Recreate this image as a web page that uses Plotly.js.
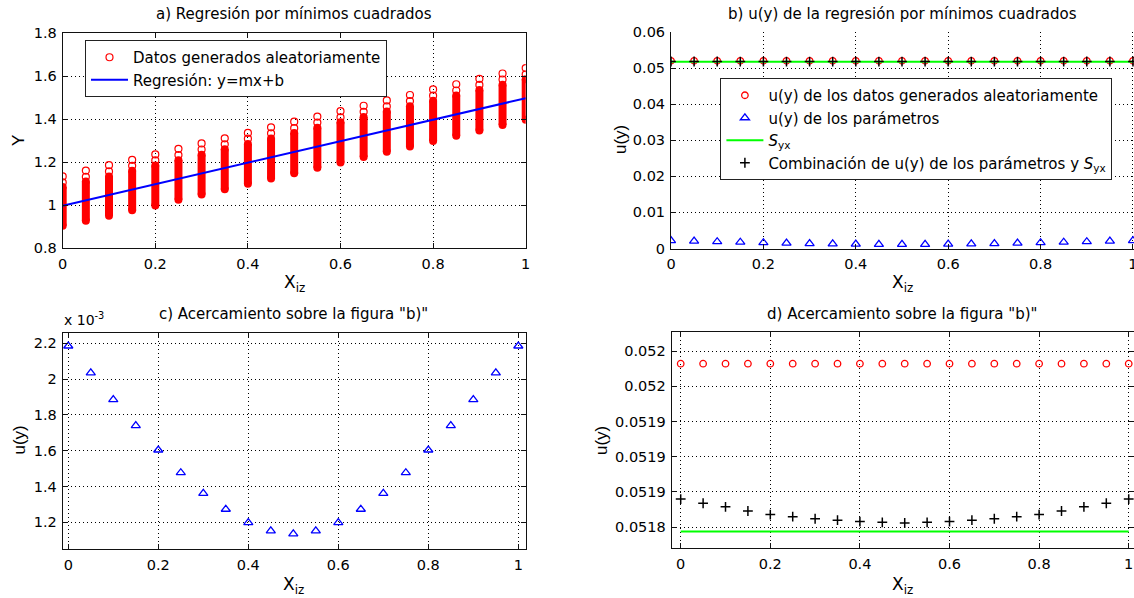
<!DOCTYPE html>
<html>
<head>
<meta charset="utf-8">
<script src="https://cdn.plot.ly/plotly-3.0.1.min.js"></script>
<style>
  html, body { margin: 0; padding: 0; background: #fff; }
  #chart { width: 1134px; height: 598px; }
</style>
</head>
<body>
<div id="chart"></div>
<script>
// ---------- data ----------
const xiz = [0, 0.05, 0.1, 0.15, 0.2, 0.25, 0.3, 0.35, 0.4, 0.45, 0.5,
             0.55, 0.6, 0.65, 0.7, 0.75, 0.8, 0.85, 0.9, 0.95, 1];

// a) random data columns: top circle, second circle, top of solid part, bottom
const datos_max = [1.134, 1.161, 1.186, 1.211, 1.236, 1.262, 1.287, 1.311, 1.336, 1.362, 1.388,
                   1.412, 1.437, 1.462, 1.487, 1.512, 1.538, 1.562, 1.587, 1.612, 1.637];
const datos_med = [1.106, 1.132, 1.157, 1.183, 1.208, 1.233, 1.259, 1.283, 1.309, 1.334, 1.358,
                   1.384, 1.408, 1.434, 1.459, 1.484, 1.509, 1.533, 1.559, 1.584, 1.608];
const datos_sup = [1.085, 1.110, 1.134, 1.160, 1.184, 1.209, 1.234, 1.260, 1.285, 1.310, 1.335,
                   1.360, 1.385, 1.410, 1.435, 1.460, 1.485, 1.510, 1.535, 1.560, 1.585];
const datos_min = [0.905, 0.928, 0.951, 0.977, 0.999, 1.025, 1.050, 1.074, 1.100, 1.124, 1.149,
                   1.174, 1.198, 1.224, 1.248, 1.273, 1.298, 1.323, 1.347, 1.373, 1.397];
const recta_x = [0, 1];
const recta_y = [0.998, 1.497];

// b), c), d) uncertainties
const u_datos = [0.052032, 0.052032, 0.052032, 0.052032, 0.052032, 0.052032, 0.052032,
                 0.052032, 0.052032, 0.052032, 0.052032, 0.052032, 0.052032, 0.052032,
                 0.052032, 0.052032, 0.052032, 0.052032, 0.052032, 0.052032, 0.052032];
const u_param = [0.002185, 0.002035, 0.001885, 0.001740, 0.001604, 0.001477, 0.001362,
                 0.001273, 0.001198, 0.001152, 0.001135, 0.001152, 0.001198, 0.001273,
                 0.001362, 0.001477, 0.001604, 0.001740, 0.001885, 0.002035, 0.002185];
const syx_x = [0, 1];
const syx_y = [0.051794, 0.051794];
const u_comb = [0.051840, 0.051834, 0.051829, 0.051823, 0.051818, 0.051815, 0.051812,
                0.051810, 0.051808, 0.051807, 0.051806, 0.051807, 0.051808, 0.051810,
                0.051812, 0.051815, 0.051818, 0.051823, 0.051829, 0.051834, 0.051840];

// tick labels
const ticks_c_vals = [0.0012, 0.0014, 0.0016, 0.0018, 0.0020, 0.0022];
const ticks_c_text = ['1.2', '1.4', '1.6', '1.8', '2', '2.2'];
const ticks_d_vals = [0.05180, 0.05185, 0.05190, 0.05195, 0.05200, 0.05205];
const ticks_d_text = ['0.0518', '0.0519', '0.0519', '0.0519', '0.052', '0.052'];

// ---------- layout helpers ----------
const W = 1134, H = 598;
const px = v => v / W;
const py = v => 1 - v / H;

const tickFont = {family: 'DejaVu Sans', size: 14.5, color: '#000'};
const titleFont = {family: 'DejaVu Sans', size: 15, color: '#000'};
const labFont = {family: 'DejaVu Sans', size: 17, color: '#000'};
const rotFont = {family: 'Liberation Sans', size: 17, color: '#000'};
const legFont = {family: 'DejaVu Sans', size: 15, color: '#000'};

function ax(extra) {
  return Object.assign({
    showline: true, linecolor: '#111', linewidth: 1,
    ticks: 'inside', ticklen: 5, tickcolor: '#111', tickwidth: 1,
    showgrid: true, gridcolor: '#000', gridwidth: 1, griddash: '1px,3px',
    zeroline: false, tickfont: tickFont, ticklabelstandoff: 2,
    ticklabeloverflow: 'allow',
    fixedrange: true, mirror: 'ticks'
  }, extra);
}

// segments for the dense columns of panel a
const segX = [], segY = [];
xiz.forEach((x, i) => { segX.push(x, x, null); segY.push(datos_min[i], datos_sup[i], null); });

const red = '#ff0000', blue = '#0000ff', green = '#00ff00';

const traces = [
  // a)
  {type: 'scatter', mode: 'lines+markers', x: segX, y: segY, xaxis: 'x', yaxis: 'y',
   line: {color: red, width: 8}, marker: {symbol: 'circle', size: 8, color: red},
   showlegend: false, hoverinfo: 'skip'},
  {type: 'scatter', mode: 'markers', x: xiz.concat(xiz), y: datos_max.concat(datos_med),
   xaxis: 'x', yaxis: 'y', name: 'Datos generados aleatoriamente', legend: 'legend',
   marker: {symbol: 'circle-open', size: 7, color: red, line: {width: 1.2, color: red}}},
  {type: 'scatter', mode: 'lines', x: recta_x, y: recta_y, xaxis: 'x', yaxis: 'y',
   name: 'Regresión: y=mx+b', legend: 'legend', line: {color: blue, width: 2}},
  // b)
  {type: 'scatter', mode: 'markers', x: xiz, y: u_datos, xaxis: 'x2', yaxis: 'y2',
   name: 'u(y) de los datos generados aleatoriamente', legend: 'legend2',
   marker: {symbol: 'circle-open', size: 6.5, color: red, line: {width: 1.3, color: red}}},
  {type: 'scatter', mode: 'markers', x: xiz, y: u_param, xaxis: 'x2', yaxis: 'y2',
   name: 'u(y) de los parámetros', legend: 'legend2',
   marker: {symbol: 'triangle-up-open', size: 8, color: blue, line: {width: 1.3, color: blue}}},
  {type: 'scatter', mode: 'lines', x: syx_x, y: syx_y, xaxis: 'x2', yaxis: 'y2',
   name: '<i>S</i><sub>yx</sub>', legend: 'legend2', line: {color: green, width: 2}},
  {type: 'scatter', mode: 'markers', x: xiz, y: u_comb, xaxis: 'x2', yaxis: 'y2',
   name: 'Combinación de u(y) de los parámetros y <i>S</i><sub>yx</sub>', legend: 'legend2',
   marker: {symbol: 'cross-thin', size: 7, color: '#000', line: {width: 1.5, color: '#000'}}},
  // c)
  {type: 'scatter', mode: 'markers', x: xiz, y: u_param, xaxis: 'x3', yaxis: 'y3', showlegend: false,
   marker: {symbol: 'triangle-up-open', size: 8, color: blue, line: {width: 1.3, color: blue}}},
  // d)
  {type: 'scatter', mode: 'markers', x: xiz, y: u_datos, xaxis: 'x4', yaxis: 'y4', showlegend: false,
   marker: {symbol: 'circle-open', size: 6.5, color: red, line: {width: 1.3, color: red}}},
  {type: 'scatter', mode: 'lines', x: syx_x, y: syx_y, xaxis: 'x4', yaxis: 'y4', showlegend: false,
   line: {color: green, width: 2}},
  {type: 'scatter', mode: 'markers', x: xiz, y: u_comb, xaxis: 'x4', yaxis: 'y4', showlegend: false,
   marker: {symbol: 'cross-thin', size: 7, color: '#000', line: {width: 1.5, color: '#000'}}}
];

function ann(text, x, y, font, extra) {
  return Object.assign({text: text, x: px(x), y: py(y), xref: 'paper', yref: 'paper',
    xanchor: 'center', yanchor: 'middle', showarrow: false, font: font}, extra || {});
}

const legBase = {xanchor: 'left', yanchor: 'top', bgcolor: '#fff', bordercolor: '#222',
                 borderwidth: 1, font: legFont, itemwidth: 37};

const layout = {
  width: W, height: H, margin: {l: 0, r: 0, t: 0, b: 0},
  paper_bgcolor: '#fff', plot_bgcolor: '#fff', showlegend: true,
  xaxis:  ax({domain: [px(62.7), px(525.7)], range: [0, 1], dtick: 0.2, tick0: 0, anchor: 'y'}),
  yaxis:  ax({domain: [py(248.3), py(33)], range: [0.8, 1.8], dtick: 0.2, tick0: 0, anchor: 'x'}),
  xaxis2: ax({domain: [px(671), 1], range: [0, 1.0022], dtick: 0.2, tick0: 0, anchor: 'y2', mirror: false}),
  yaxis2: ax({domain: [py(248.5), py(32)], range: [0, 0.06001], dtick: 0.01, tick0: 0, anchor: 'x2', mirror: false}),
  xaxis3: ax({domain: [px(62.7), px(525.7)], range: [-0.0124, 1.0164], dtick: 0.2, tick0: 0, anchor: 'y3'}),
  yaxis3: ax({domain: [py(549.3), py(333)], range: [0.0010492, 0.0022575], tickvals: ticks_c_vals, ticktext: ticks_c_text, anchor: 'x3'}),
  xaxis4: ax({domain: [px(671.7), 1], range: [-0.0201, 1.0118], dtick: 0.2, tick0: 0, anchor: 'y4'}),
  yaxis4: ax({domain: [py(548.3), py(331.7)], range: [0.0517701, 0.0520774], tickvals: ticks_d_vals, ticktext: ticks_d_text, anchor: 'x4'}),
  legend: Object.assign({x: px(85), y: py(40)}, legBase),
  legend2: Object.assign({x: px(720.4), y: py(78)}, legBase),
  annotations: [
    ann('a) Regresión por mínimos cuadrados', 294, 13.5, titleFont),
    ann('b) u(y) de la regresión por mínimos cuadrados', 902, 13.5, titleFont),
    ann('c) Acercamiento sobre la figura "b)"', 293, 314, titleFont),
    ann('d) Acercamiento sobre la figura "b)"', 902, 314, titleFont),
    ann('X<sub>iz</sub>', 294, 283, labFont),
    ann('X<sub>iz</sub>', 902, 283, labFont),
    ann('X<sub>iz</sub>', 293, 585, labFont),
    ann('X<sub>iz</sub>', 902, 585, labFont),
    ann('Y', 19, 141, rotFont, {textangle: -90}),
    ann('u(y)', 620, 140, rotFont, {textangle: -90}),
    ann('u(y)', 18.5, 440, rotFont, {textangle: -90}),
    ann('u(y)', 601, 441, rotFont, {textangle: -90}),
    ann('x 10<sup>-3</sup>', 62, 330, {family: 'DejaVu Sans', size: 14, color: '#000'}, {xanchor: 'left', yanchor: 'bottom'})
  ]
};

Plotly.newPlot('chart', traces, layout, {displayModeBar: false, staticPlot: true});
</script>
</body>
</html>
